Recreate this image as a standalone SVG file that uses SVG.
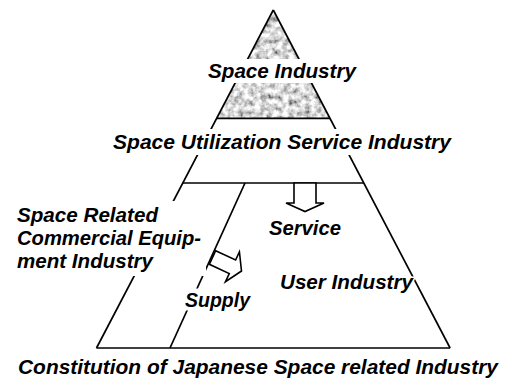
<svg xmlns="http://www.w3.org/2000/svg" width="514" height="381" viewBox="0 0 514 381">
<style>
.t{font-family:"Liberation Sans",Arial,sans-serif;font-weight:bold;font-style:italic;font-size:20.5px;fill:#000}
.halo{stroke:#fff;stroke-width:3;paint-order:stroke;stroke-linejoin:round}
.ln{stroke:#000;stroke-width:1.7;fill:none}
.ko{fill:#fff;stroke:none}
.arr{fill:#fff;stroke:#000;stroke-width:1.6;stroke-linejoin:miter}
</style>
<defs>
<filter id="granite" x="0" y="0" width="1" height="1" filterUnits="objectBoundingBox">
<feTurbulence type="fractalNoise" baseFrequency="0.18" numOctaves="3" seed="11" result="n"/>
<feColorMatrix in="n" type="matrix" values="1.6 0 0 0 -0.12  1.6 0 0 0 -0.12  1.6 0 0 0 -0.12  0 0 0 0 1" result="g"/>
<feComposite in="g" in2="SourceGraphic" operator="in"/>
</filter>
</defs>
<rect width="514" height="381" fill="#fff"/>
<g id="pyramid">
<polygon points="273.3,10 216.7,118.3 329.9,118.3" fill="#aaa" filter="url(#granite)"/>
<line class="ln" x1="273.3" y1="10" x2="96.5" y2="348"/>
<line class="ln" x1="273.3" y1="10" x2="450.1" y2="348"/>
<line class="ln" x1="216.7" y1="118.3" x2="329.9" y2="118.3"/>
<line class="ln" x1="182.8" y1="183" x2="363.8" y2="183"/>
<line class="ln" x1="96.5" y1="348" x2="450.1" y2="348"/>
<line class="ln" x1="245" y1="183" x2="170" y2="348"/>
</g>
<g id="space-industry">
<rect class="ko" x="204" y="59" width="158" height="24"/>
<text class="t" x="208" y="78" textLength="148" lengthAdjust="spacingAndGlyphs">Space Industry</text>
</g>
<g id="space-utilization-service-industry">
<rect class="ko" x="108" y="129" width="352" height="26"/>
<text class="t" x="113" y="148.5" textLength="338" lengthAdjust="spacingAndGlyphs">Space Utilization Service Industry</text>
</g>
<g id="space-related-commercial-equipment-industry">
<rect class="ko" x="10" y="201" width="196" height="75"/>
<text class="t" x="17" y="221.7" textLength="141" lengthAdjust="spacingAndGlyphs">Space Related</text>
<text class="t" x="17" y="245" textLength="184" lengthAdjust="spacingAndGlyphs">Commercial Equip-</text>
<text class="t" x="17" y="268.3" textLength="136" lengthAdjust="spacingAndGlyphs">ment Industry</text>
</g>
<g id="user-industry">
<text class="t halo" x="280" y="288.5" textLength="133" lengthAdjust="spacingAndGlyphs">User Industry</text>
</g>
<g id="connectors">
<g id="service">
<polygon class="arr" points="294,183 294,203 286,203 305,211.5 324,203 316,203 316,183"/>
<text class="t halo" x="269" y="235" textLength="72" lengthAdjust="spacingAndGlyphs">Service</text>
</g>
<g id="supply">
<polygon class="arr" transform="translate(212.5,257.5) rotate(25)" points="0,-7.5 22,-7.5 22,-16.5 32,0 22,16.5 22,7.5 0,7.5"/>
<rect class="ko" x="183" y="288.5" width="71" height="22"/>
<text class="t" x="185" y="307" textLength="65" lengthAdjust="spacingAndGlyphs">Supply</text>
</g>
</g>
<text class="t" x="18" y="373.5" textLength="480" lengthAdjust="spacingAndGlyphs">Constitution of Japanese Space related Industry</text>
</svg>
